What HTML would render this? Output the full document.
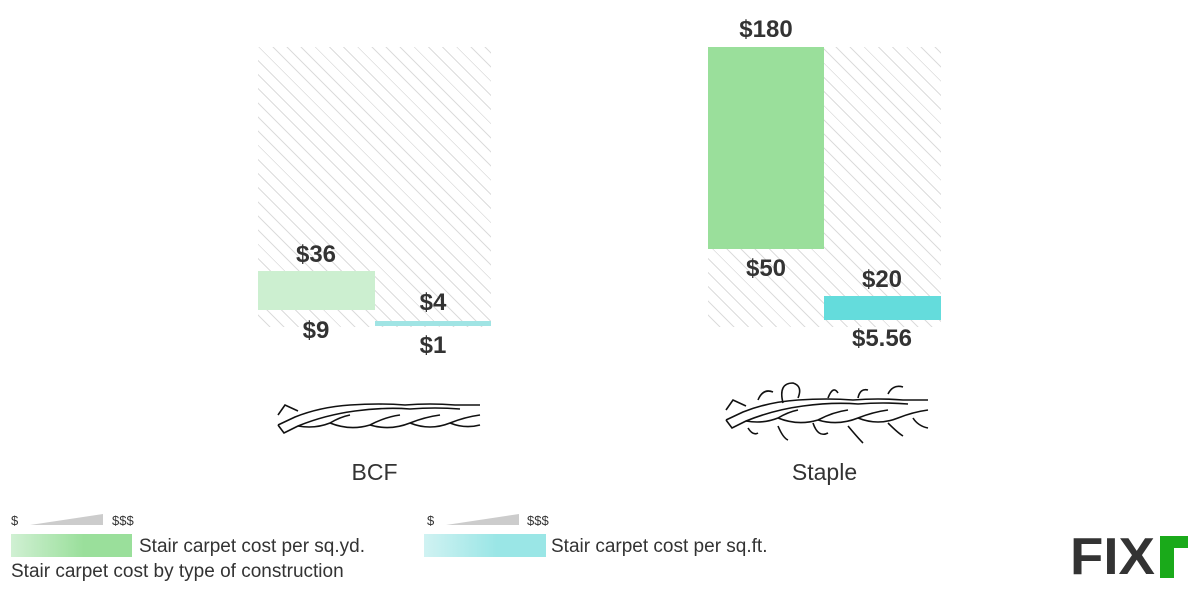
<!DOCTYPE html>
<html><head><style>
body{margin:0;width:1200px;height:591px;background:#fff;position:relative;overflow:hidden;font-family:"Liberation Sans",sans-serif;color:#333}
.a{position:absolute}
.v{position:absolute;font-weight:bold;font-size:24px;text-align:center;width:116px}
.hatch{background:repeating-linear-gradient(45deg,#fff 0 8px,#dcdcdc 8px 9px,#fff 9px 10px)}
.t{position:absolute;font-size:19px}
</style></head><body>
<div class="a hatch" style="left:258px;top:47px;width:233px;height:280px"></div>
<div class="a hatch" style="left:708px;top:47px;width:233px;height:280px"></div>
<div class="a" style="left:258px;top:271px;width:117px;height:39px;background:#ccefd0"></div>
<div class="a" style="left:375px;top:321px;width:116px;height:5px;background:#a0e4e4"></div>
<div class="a" style="left:708px;top:47px;width:116px;height:202px;background:#9adf9b"></div>
<div class="a" style="left:824px;top:296px;width:117px;height:24px;background:#64dcdc"></div>
<div class="v" style="left:258px;top:241px">$36</div>
<div class="v" style="left:258px;top:317px">$9</div>
<div class="v" style="left:375px;top:289px">$4</div>
<div class="v" style="left:375px;top:332px">$1</div>
<div class="v" style="left:708px;top:16px">$180</div>
<div class="v" style="left:708px;top:255px">$50</div>
<div class="v" style="left:824px;top:266px">$20</div>
<div class="v" style="left:824px;top:325px">$5.56</div>
<svg class="a" style="left:270px;top:395px" width="215" height="45" fill="none" stroke="#111" stroke-width="1.6">
<path d="M8 20 L15 10 L28 16"/>
<path d="M8 30 L25 22 Q50 12 80 10 Q110 8 135 10 Q160 8 185 10 Q198 10 210 10"/>
<path d="M8 30 L14 38 L28 31 Q55 20 85 16 Q115 12 140 14 Q165 12 190 14"/>
<path d="M28 31 Q45 34 60 28 Q70 22 80 20 M60 28 Q80 36 100 30 Q115 22 130 20 M100 30 Q120 36 140 28 Q155 22 170 20 M140 28 Q160 36 180 28 Q195 22 210 20"/>
<path d="M180 28 Q195 34 210 30"/>
</svg>
<svg class="a" style="left:718px;top:378px" width="215" height="70" fill="none" stroke="#111" stroke-width="1.6">
<path d="M8 32 L15 22 L28 28"/>
<path d="M8 42 L25 34 Q50 24 80 22 Q110 20 135 22 Q160 20 185 22 Q198 22 210 22"/>
<path d="M8 42 L14 50 L28 43 Q55 32 85 28 Q115 24 140 26 Q165 24 190 26"/>
<path d="M28 43 Q45 46 60 40 Q70 34 80 32 M60 40 Q80 48 100 42 Q115 34 130 32 M100 42 Q120 48 140 40 Q155 34 170 32 M140 40 Q160 48 180 40 Q195 34 210 32"/>
<path d="M40 22 Q45 10 55 14 M65 25 Q60 5 75 5 Q85 8 80 20 M110 20 Q115 7 120 15 M140 20 Q142 10 150 12 M170 16 Q175 6 185 9 M30 50 Q35 58 40 55 M60 48 Q65 60 70 62 M95 45 Q100 60 110 55 M130 48 Q140 60 145 65 M170 45 Q180 55 185 58 M195 40 Q200 48 210 50"/>
</svg>
<div class="a" style="left:258px;top:459px;width:233px;text-align:center;font-size:23px;font-weight:300">BCF</div>
<div class="a" style="left:708px;top:459px;width:233px;text-align:center;font-size:23px;font-weight:300">Staple</div>
<div class="a" style="left:11px;top:513px;font-size:13px">$</div>
<svg class="a" style="left:30px;top:514px" width="75" height="12"><polygon points="0,11 73,0 73,11" fill="#ccc"/></svg>
<div class="a" style="left:112px;top:513px;font-size:13px">$$$</div>
<div class="a" style="left:11px;top:534px;width:121px;height:23px;background:linear-gradient(90deg,#d0f0d3,#9adf9b 60%)"></div>
<div class="t" style="left:139px;top:536px">Stair carpet cost per sq.yd.</div>
<div class="t" style="left:11px;top:561px">Stair carpet cost by type of construction</div>
<div class="a" style="left:427px;top:513px;font-size:13px">$</div>
<svg class="a" style="left:446px;top:514px" width="75" height="12"><polygon points="0,11 73,0 73,11" fill="#ccc"/></svg>
<div class="a" style="left:527px;top:513px;font-size:13px">$$$</div>
<div class="a" style="left:424px;top:534px;width:122px;height:23px;background:linear-gradient(90deg,#d0f2f2,#9ae6e6 60%)"></div>
<div class="t" style="left:551px;top:536px">Stair carpet cost per sq.ft.</div>
<div class="a" style="left:1070px;top:532px;font-size:52px;font-weight:bold;color:#333;line-height:50px;transform:scaleX(1.05);transform-origin:left;letter-spacing:0px">FIX</div>
<div class="a" style="left:1160px;top:536px;width:28px;height:42px;background:#1aaa1a"></div>
<div class="a" style="left:1174px;top:548px;width:14px;height:30px;background:#fff"></div>
</body></html>
